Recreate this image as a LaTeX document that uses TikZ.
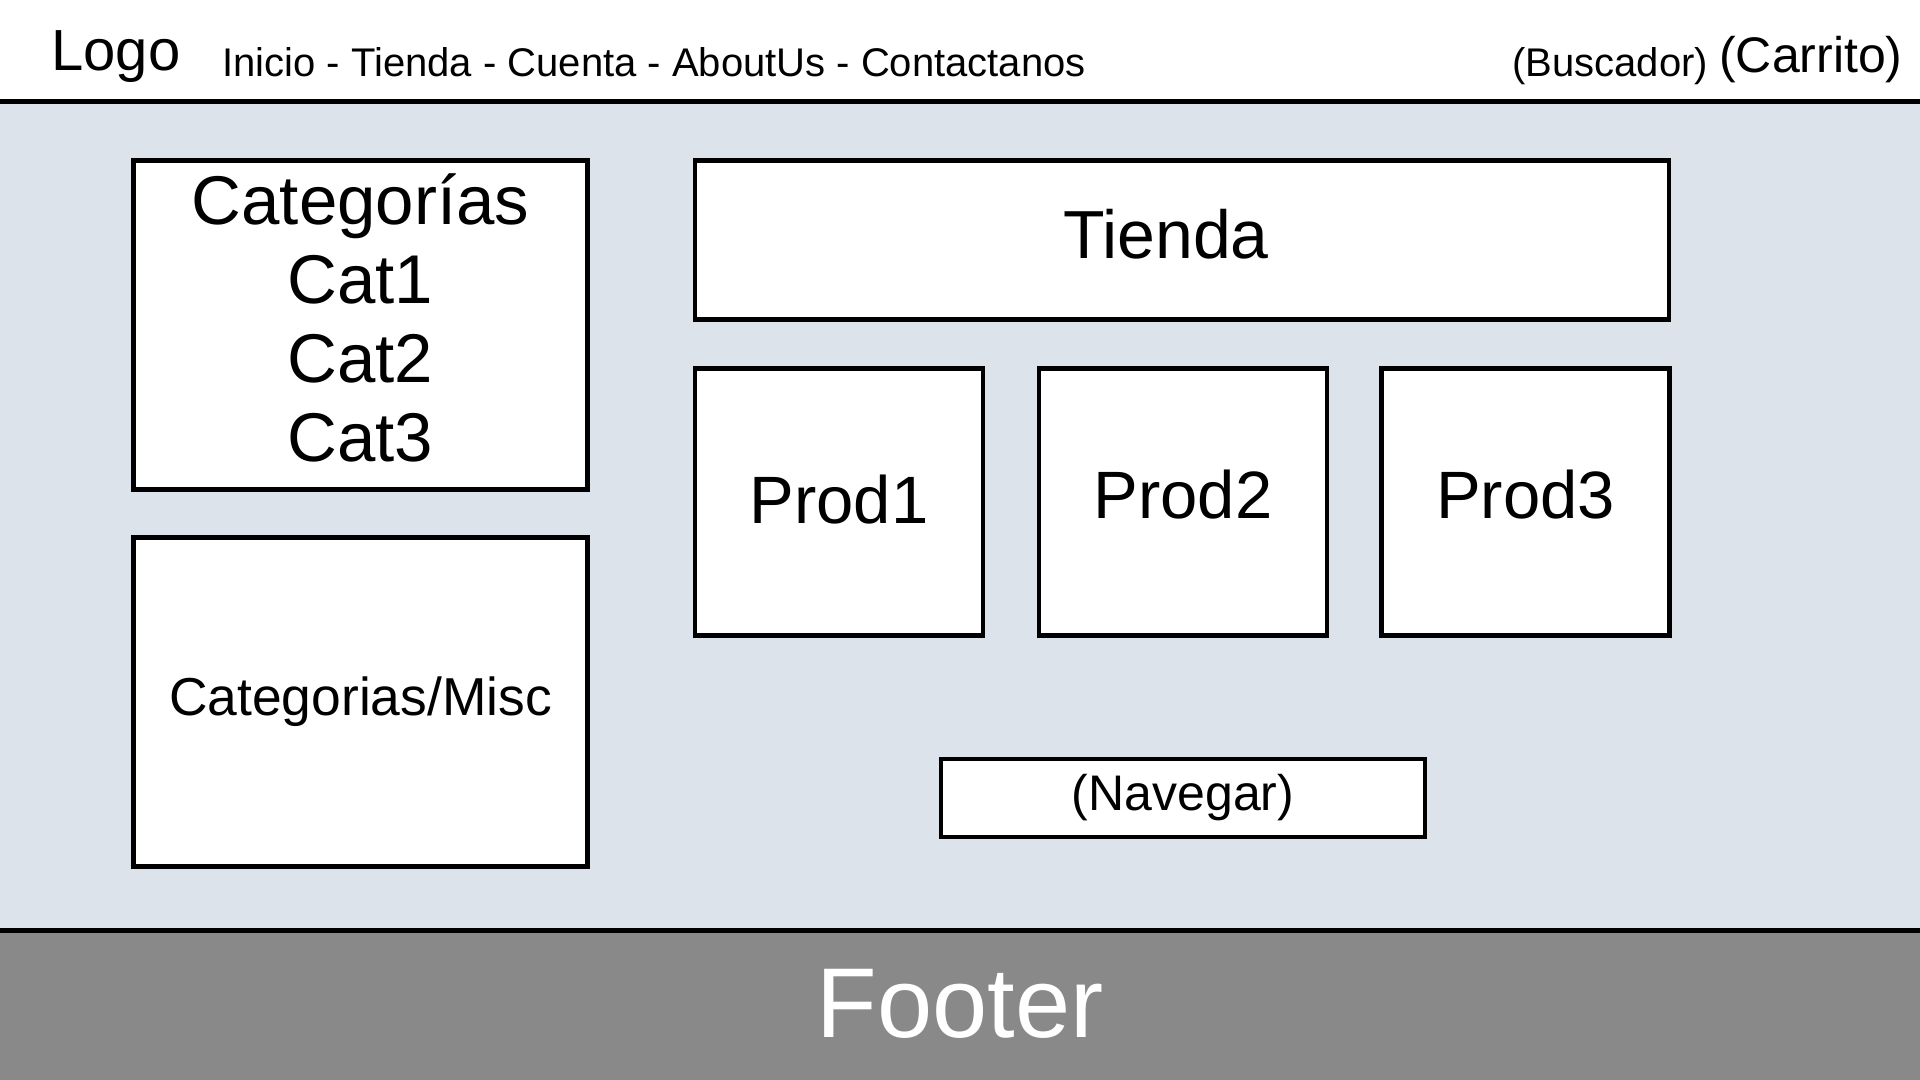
\documentclass[tikz,border=0pt]{standalone}
\usepackage{fontspec}
\setmainfont{Liberation Sans}
\definecolor{bodybg}{HTML}{DCE3EB}
\definecolor{footbg}{HTML}{898989}
\newcommand{\fs}[2]{\fontsize{#1}{#2}\selectfont}
\begin{document}
\begin{tikzpicture}[x=0.5pt,y=-0.5pt,
  panel/.style={draw=black, fill=white, line width=2.3pt, inner sep=0pt, align=center},
  hdr/.style={inner sep=0pt, text=black, align=center}]
\useasboundingbox (0,0) rectangle (1920,1080);
% backgrounds
\fill[white] (0,0) rectangle (1920,100);
\fill[bodybg] (0,100) rectangle (1920,930);
\fill[footbg] (0,930) rectangle (1920,1080);
\fill[black] (0,99) rectangle (1920,104);
\fill[black] (0,928) rectangle (1920,933);
% header
\node[hdr, anchor=base west, font=\fs{29}{34}] (logo) at (51,71) {Logo};
\node[hdr, anchor=base west, font=\fs{20}{24}] (nav) at (222,77) {Inicio - Tienda - Cuenta - AboutUs - Contactanos};
\node[hdr, anchor=base west, font=\fs{20}{24}] (busc) at (1512,77) {(Buscador)};
\node[hdr, anchor=base east, font=\fs{25}{30}] (carr) at (1903,73) {(Carrito)};
% left column
\node[panel, minimum width=227pt, minimum height=164.5pt] (cats) at (360.5,325) {};
\node[hdr, font=\fs{34.5}{39.5}] (catst) at ([yshift=3.5pt]cats.center)
  {Categorías\\Cat1\\Cat2\\Cat3};
\node[panel, minimum width=227pt, minimum height=164.5pt, font=\fs{26.7}{32}] (misc) at (360.5,702)
  {Categorias/Misc};
% main area
\node[panel, minimum width=487pt, minimum height=79.5pt] (tienda) at (1182,240) {};
\node[hdr, font=\fs{34}{40}] (tiendat) at ([xshift=-8pt,yshift=3pt]tienda.center) {Tienda};
\node[panel, minimum width=144pt, minimum height=133.5pt] (p1) at (839,502) {};
\node[hdr, font=\fs{33.5}{40}] (p1t) at ([yshift=1pt]p1.center) {Prod1};
\node[panel, minimum width=144pt, minimum height=133.5pt] (p2) at (1183,502) {};
\node[hdr, font=\fs{33.5}{40}] (p2t) at ([yshift=3.5pt]p2.center) {Prod2};
\node[panel, minimum width=144pt, minimum height=133.5pt] (p3) at (1525.5,502) {};
\node[hdr, font=\fs{33.5}{40}] (p3t) at ([yshift=3.5pt]p3.center) {Prod3};
\node[panel, minimum width=242pt, minimum height=39pt, font=\fs{25}{30}] (nvg) at (1183,798)
  {(Navegar)};
% footer
\node[hdr, text=white, font=\fs{49.6}{58}] (footer) at (960,1004) {Footer};
\end{tikzpicture}
\end{document}
